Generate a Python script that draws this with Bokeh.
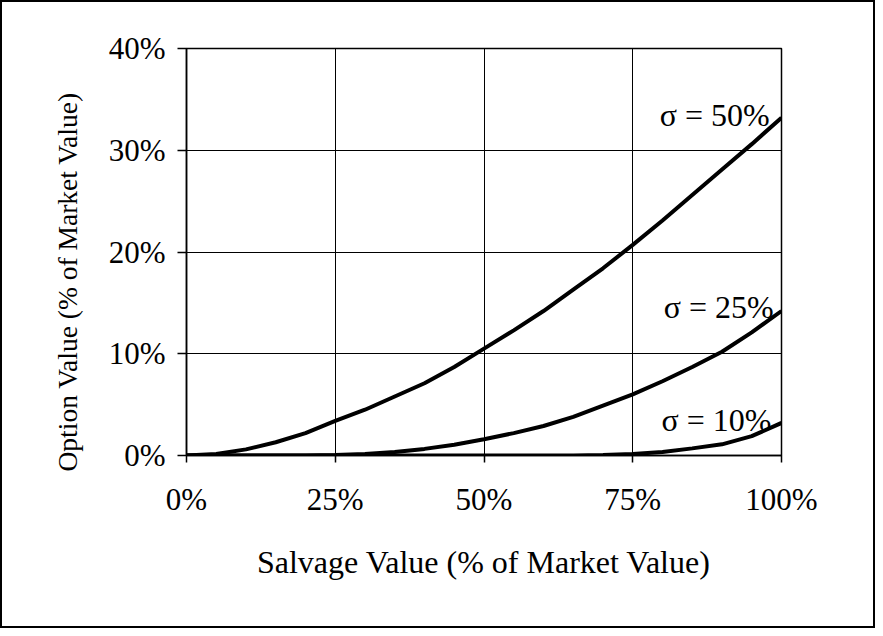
from bokeh.plotting import figure
from bokeh.models import Range1d, FixedTicker, PrintfTickFormatter, Title
from bokeh.core.properties import value
from bokeh.embed import file_html
from bokeh.resources import INLINE

# Salvage value (% of market value)
salvage = [0, 5, 10, 15, 20, 25, 30, 35, 40, 45, 50, 55, 60, 65, 70, 75, 80, 85, 90, 95, 100]
# Option value (% of market value) for each volatility
sigma_50 = [0, 0.15, 0.6, 1.3, 2.2, 3.4, 4.5, 5.8, 7.1, 8.7, 10.5, 12.3, 14.2, 16.3, 18.4, 20.7, 23.1, 25.6, 28.1, 30.6, 33.2]
sigma_25 = [0, 0, 0, 0, 0, 0.05, 0.15, 0.35, 0.65, 1.05, 1.6, 2.2, 2.9, 3.8, 4.9, 6.0, 7.3, 8.7, 10.2, 12.1, 14.2]
sigma_10 = [0, 0, 0, 0, 0, 0, 0, 0, 0, 0, 0, 0, 0, 0, 0.05, 0.15, 0.35, 0.7, 1.1, 1.9, 3.2]
series_labels = ["σ = 50%", "σ = 25%", "σ = 10%"]
x_ticks = [0, 25, 50, 75, 100]
y_ticks = [0, 10, 20, 30, 40]
x_title = "Salvage Value (% of Market Value)"
y_title = "Option Value (% of Market Value)"

FONT = "Liberation Serif"

p = figure(width=875, height=628, output_backend="svg", toolbar_location=None,
           x_range=Range1d(0, 100), y_range=Range1d(0, 40),
           min_border_left=184, min_border_right=96, min_border_top=46, min_border_bottom=175,
           styles={"border": "2px solid black", "box-sizing": "border-box", "overflow": "hidden"})

p.outline_line_color = "black"
p.outline_line_width = 1.5
p.background_fill_color = "white"
p.border_fill_color = "white"

for ax in (p.xaxis[0], p.yaxis[0]):
    ax.axis_line_color = "black"
    ax.axis_line_width = 1.5
    ax.major_tick_line_color = "black"
    ax.major_tick_line_width = 1.5
    ax.major_tick_in = 0
    ax.minor_tick_line_color = None
    ax.major_label_text_font = FONT
    ax.major_label_text_font_size = "31px"
    ax.major_label_text_color = "black"
    ax.axis_label_text_font = FONT
    ax.axis_label_text_font_style = "normal"
    ax.axis_label_text_color = "black"
    ax.formatter = PrintfTickFormatter(format="%d%%")

p.xaxis.ticker = FixedTicker(ticks=x_ticks)
p.yaxis.ticker = FixedTicker(ticks=y_ticks)
p.xaxis.major_tick_out = 7
p.yaxis.major_tick_out = 9
p.xaxis.major_label_standoff = 19
p.yaxis.major_label_standoff = 12
p.xaxis.axis_label = x_title
p.xaxis.axis_label_text_font_size = "32px"
p.xaxis.axis_label_standoff = 24

p.xgrid.ticker = FixedTicker(ticks=x_ticks)
p.ygrid.ticker = FixedTicker(ticks=y_ticks)
p.grid.grid_line_color = "black"
p.grid.grid_line_width = 1
p.grid.grid_line_alpha = 1

for ys in (sigma_50, sigma_25, sigma_10):
    p.line(salvage, ys, line_color="black", line_width=4)

# y-axis title as a side title, starting a little below the frame bottom like in the original
p.add_layout(Title(text=y_title, align="left", offset=-16, standoff=45,
                   text_font=FONT, text_font_size="27.5px", text_font_style="normal",
                   text_color="black"), "left")

p.text(x=[98.0, 98.7, 98.3], y=[33.5, 14.6, 3.5], text=series_labels,
       text_font=value(FONT), text_font_size="32px", text_color="black",
       text_align="right", text_baseline="middle")

open("out.html", "w").write(file_html(p, INLINE))
